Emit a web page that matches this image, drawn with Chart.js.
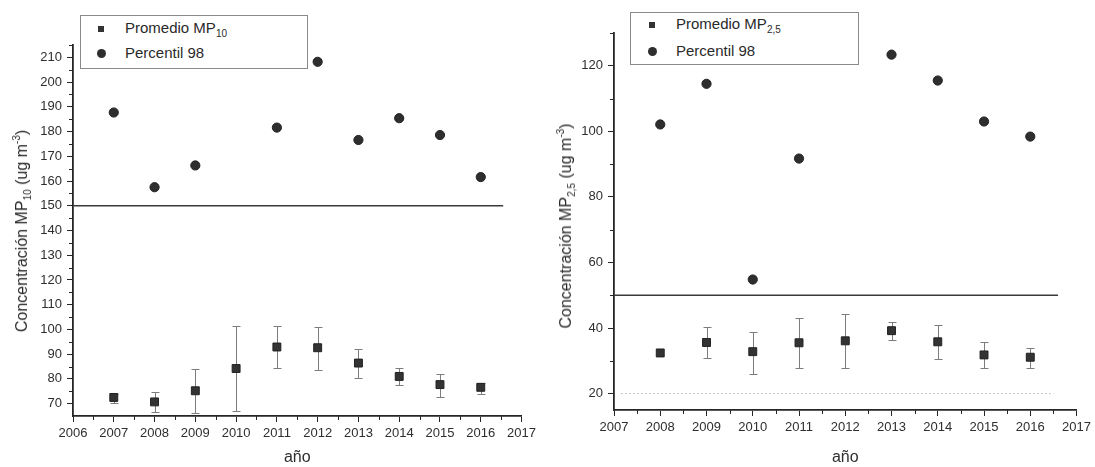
<!DOCTYPE html>
<html>
<head>
<meta charset="utf-8">
<script src="https://cdn.jsdelivr.net/npm/chart.js@4.4.1/dist/chart.umd.min.js"></script>
<style>
  html, body { margin: 0; padding: 0; background: #fff; }
  body { width: 1095px; height: 467px; position: relative; overflow: hidden;
         font-family: "Liberation Sans", Arial, sans-serif; color: #2a2a2a; }
  canvas { position: absolute; top: 0; }
  #graficoMP10 { left: 0; }
  #graficoMP25 { left: 540px; }
  .leyenda { position: absolute; border: 1px solid #8a8a8a; background: #fff; font-size: 15px; }
  .item { position: absolute; left: 0; white-space: nowrap; line-height: 18px; }
  .cuadro { position: absolute; width: 6px; height: 6px; background: #333; }
  .punto { position: absolute; width: 9px; height: 9px; border-radius: 50%; background: #2e2e2e; }
  .sub { font-size: 10px; vertical-align: -4px; }
  .sup { font-size: 10px; vertical-align: 7px; }
  .titY { position: absolute; transform: translate(-50%, -50%) rotate(-90deg);
          white-space: nowrap; font-size: 16px; color: #2a2a2a; }
</style>
</head>
<body>
<canvas id="graficoMP10" width="540" height="467"></canvas>
<canvas id="graficoMP25" width="555" height="467"></canvas>

<!-- leyendas y titulos de eje Y en HTML (la leyenda se sale del area del grafico) -->
<div class="leyenda" style="left:80px; top:15px; width:226px; height:52px;">
  <div class="cuadro" style="left:17px; top:10px;"></div>
  <div class="item" style="left:44px; top:3px;">Promedio MP<span class="sub">10</span></div>
  <div class="punto" style="left:16px; top:33px;"></div>
  <div class="item" style="left:44px; top:28px;">Percentil 98</div>
</div>
<div class="leyenda" style="left:630px; top:12px; width:227px; height:51px;">
  <div class="cuadro" style="left:18px; top:9px;"></div>
  <div class="item" style="left:45px; top:2px;">Promedio MP<span class="sub">2,5</span></div>
  <div class="punto" style="left:17px; top:34px;"></div>
  <div class="item" style="left:45px; top:29px;">Percentil 98</div>
</div>
<div class="titY" style="left:22px; top:231px;">Concentración MP<span class="sub">10</span> (ug m<span class="sup">-3</span>)</div>
<div class="titY" style="left:566px; top:226px;">Concentración MP<span class="sub">2,5</span> (ug m<span class="sup">-3</span>)</div>

<script>
// ---- MP10 ----
const aniosMP10 = [2007, 2008, 2009, 2010, 2011, 2012, 2013, 2014, 2015, 2016];
const promedioMP10 = [72.5, 70.7, 75.2, 84.2, 92.9, 92.6, 86.4, 81.0, 77.7, 76.6];
const altoMP10 = [74.0, 74.6, 84.1, 101.3, 101.3, 101.0, 92.1, 84.5, 82.1, 78.5];
const bajoMP10 = [70.2, 66.6, 66.2, 67.0, 84.3, 83.7, 80.3, 77.4, 72.8, 74.0];
const percentilMP10 = [187.7, 157.5, 166.3, null, 181.6, 208.2, 176.6, 185.4, 178.6, 161.6];
const limiteMP10 = 150;
const tramoLimiteMP10 = [2006, 2016.55];
const ticksXMP10 = [2006, 2007, 2008, 2009, 2010, 2011, 2012, 2013, 2014, 2015, 2016, 2017];
const ticksYMP10 = [70, 80, 90, 100, 110, 120, 130, 140, 150, 160, 170, 180, 190, 200, 210];

// ---- MP2,5 ----
const aniosMP25 = [2008, 2009, 2010, 2011, 2012, 2013, 2014, 2015, 2016];
const promedioMP25 = [32.4, 35.6, 32.8, 35.5, 36.1, 39.2, 35.8, 31.8, 31.1];
const altoMP25 = [null, 40.4, 38.9, 43.2, 44.2, 41.7, 40.8, 35.7, 33.9];
const bajoMP25 = [null, 30.9, 26.1, 27.7, 27.7, 36.3, 30.5, 27.8, 27.9];
const percentilMP25 = [102.1, 114.5, 54.8, 91.7, null, 123.4, 115.5, 103.0, 98.4];
const limiteMP25 = 50;
const tramoLimiteMP25 = [2007, 2016.6];
const guiaMP25 = 20;
const tramoGuiaMP25 = [2007.15, 2016.5];
const ticksXMP25 = [2007, 2008, 2009, 2010, 2011, 2012, 2013, 2014, 2015, 2016, 2017];
const ticksYMP25 = [20, 40, 60, 80, 100, 120];

const colorEje = '#262626';
const colorTexto = '#2e2e2e';

// barras de error, dibujadas debajo de los marcadores
const barrasError = {
  id: 'barrasError',
  beforeDatasetsDraw(chart, args, opts) {
    const { ctx, scales: { x, y } } = chart;
    ctx.save();
    ctx.strokeStyle = '#7c7c7c';
    ctx.lineWidth = 1;
    opts.anios.forEach((a, i) => {
      if (opts.alto[i] == null) return;
      const px = Math.round(x.getPixelForValue(a)) + 0.5;
      const yt = Math.round(y.getPixelForValue(opts.alto[i])) + 0.5;
      const yb = Math.round(y.getPixelForValue(opts.bajo[i])) + 0.5;
      ctx.beginPath();
      ctx.moveTo(px, yt); ctx.lineTo(px, yb);
      ctx.moveTo(px - 4, yt); ctx.lineTo(px + 4, yt);
      ctx.moveTo(px - 4, yb); ctx.lineTo(px + 4, yb);
      ctx.stroke();
    });
    ctx.restore();
  }
};

// ticks menores (cada medio paso) hacia afuera
const ticksMenores = {
  id: 'ticksMenores',
  afterDraw(chart, args, opts) {
    const { ctx, scales: { x, y }, chartArea } = chart;
    ctx.save();
    ctx.strokeStyle = colorEje;
    ctx.lineWidth = 1;
    ctx.beginPath();
    for (let v = x.min + opts.pasoX; v < x.max; v += 2 * opts.pasoX) {
      const px = Math.round(x.getPixelForValue(v)) + 0.5;
      ctx.moveTo(px, chartArea.bottom); ctx.lineTo(px, chartArea.bottom + 4);
    }
    let v0 = Math.ceil(y.min / opts.pasoY) * opts.pasoY;
    for (let v = v0; v <= y.max; v += opts.pasoY) {
      if (v === y.min || Math.round(v / opts.pasoY) % 2 === 0) continue;
      const py = Math.round(y.getPixelForValue(v)) + 0.5;
      ctx.moveTo(chartArea.left - 4, py); ctx.lineTo(chartArea.left, py);
    }
    ctx.stroke();
    ctx.restore();
  }
};

function puntos(anios, valores) {
  return anios.map((a, i) => ({ x: a, y: valores[i] })).filter(p => p.y != null);
}

function crearGrafico(id, c) {
  const datasets = [
    { label: 'Promedio', data: puntos(c.anios, c.promedio), pointStyle: 'rect',
      pointRadius: 5.6, backgroundColor: '#333', borderColor: '#222', borderWidth: 1 },
    { label: 'Percentil 98', data: puntos(c.anios, c.percentil), pointStyle: 'circle',
      pointRadius: 4.6, backgroundColor: '#2e2e2e', borderColor: '#222', borderWidth: 1 },
    { type: 'line', label: 'limite', data: c.tramoLimite.map(x => ({ x, y: c.limite })),
      borderColor: '#3a3a3a', borderWidth: 1.6, pointRadius: 0 }
  ];
  if (c.guia != null) {
    datasets.push({ type: 'line', label: 'guia', data: c.tramoGuia.map(x => ({ x, y: c.guia })),
      borderColor: '#c4c4c4', borderWidth: 1, borderDash: [2, 2], pointRadius: 0 });
  }
  return new Chart(document.getElementById(id), {
    type: 'scatter',
    data: { datasets },
    options: {
      responsive: false,
      animation: false,
      devicePixelRatio: 1,
      layout: { padding: { top: c.top, right: c.right, left: 0, bottom: 0 } },
      plugins: {
        legend: { display: false },
        tooltip: { enabled: false },
        barrasError: { anios: c.anios, alto: c.alto, bajo: c.bajo },
        ticksMenores: { pasoX: 0.5, pasoY: c.pasoMenorY }
      },
      scales: {
        x: {
          type: 'linear', min: c.ticksX[0], max: c.ticksX[c.ticksX.length - 1],
          afterBuildTicks: s => { s.ticks = c.ticksX.map(v => ({ value: v })); },
          afterFit: s => { s.height = c.altoEjeX; },
          ticks: { callback: v => String(v), color: colorTexto, font: { size: 13, family: 'Liberation Sans' },
                   padding: 4, maxRotation: 0, autoSkip: false },
          grid: { drawOnChartArea: false, tickLength: 6, tickColor: colorEje, tickWidth: 1 },
          border: { color: colorEje, width: 1.8 },
          title: { display: true, text: 'año', color: colorTexto, font: { size: 16, family: 'Liberation Sans' },
                   padding: { top: 0, bottom: 0 } }
        },
        y: {
          type: 'linear', min: c.minY, max: c.maxY,
          afterBuildTicks: s => { s.ticks = c.ticksY.map(v => ({ value: v })); },
          afterFit: s => { s.width = c.anchoEjeY; },
          ticks: { color: colorTexto, font: { size: 13, family: 'Liberation Sans' }, padding: 5 },
          grid: { drawOnChartArea: false, tickLength: 6, tickColor: colorEje, tickWidth: 1 },
          border: { color: colorEje, width: 1.8 }
        }
      }
    },
    plugins: [barrasError, ticksMenores]
  });
}

crearGrafico('graficoMP10', {
  anios: aniosMP10, promedio: promedioMP10, alto: altoMP10, bajo: bajoMP10,
  percentil: percentilMP10, limite: limiteMP10, tramoLimite: tramoLimiteMP10,
  ticksX: ticksXMP10, ticksY: ticksYMP10, minY: 65, maxY: 215, pasoMenorY: 5,
  top: 45, right: 11, altoEjeX: 51, anchoEjeY: 73
});

crearGrafico('graficoMP25', {
  anios: aniosMP25, promedio: promedioMP25, alto: altoMP25, bajo: bajoMP25,
  percentil: percentilMP25, limite: limiteMP25, tramoLimite: tramoLimiteMP25,
  guia: guiaMP25, tramoGuia: tramoGuiaMP25,
  ticksX: ticksXMP25, ticksY: ticksYMP25, minY: 15, maxY: 130, pasoMenorY: 10,
  top: 33, right: 15, altoEjeX: 57, anchoEjeY: 74
});
</script>
</body>
</html>
